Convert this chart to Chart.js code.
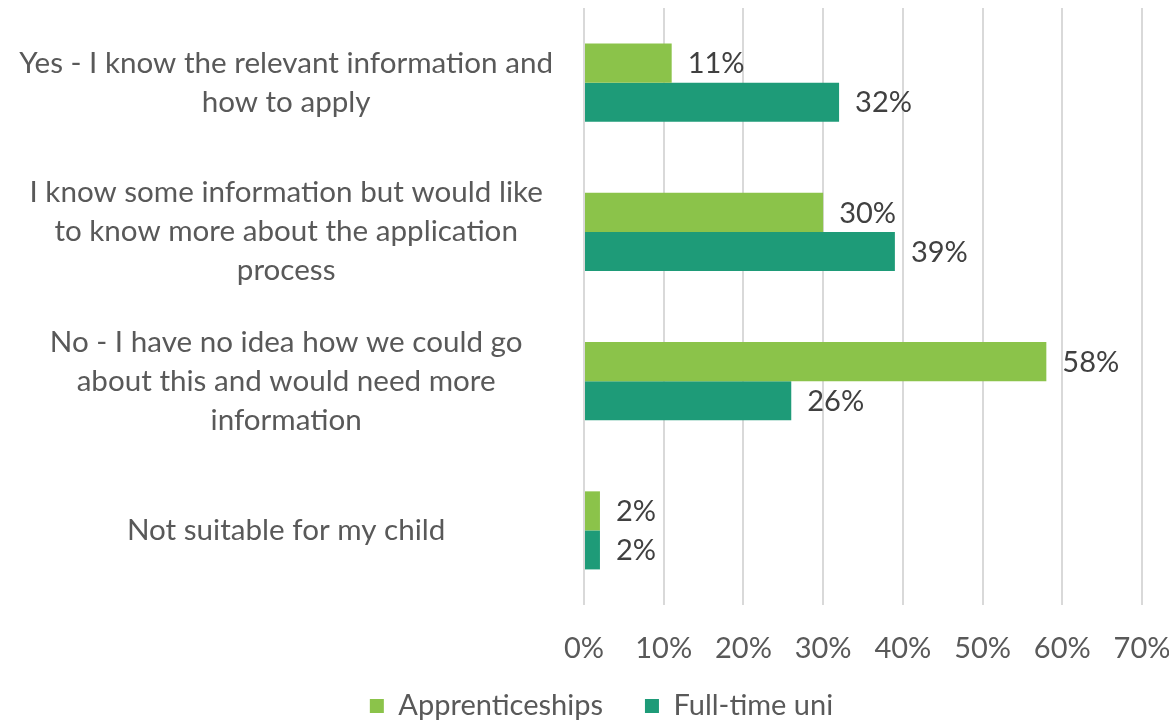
<!DOCTYPE html>
<html><head><meta charset="utf-8">
<script src="https://cdn.jsdelivr.net/npm/chart.js@4/dist/chart.umd.min.js"></script>
<style>html,body{margin:0;padding:0;background:#fff}#wrap{width:1169px;height:723px}</style>
</head><body><div id="wrap"><canvas id="c" width="1169" height="723"></canvas></div>
<script>
const categories = [
  ["Yes - I know the relevant information and", "how to apply"],
  ["I know some information but would like", "to know more about the application", "process"],
  ["No - I have no idea how we could go", "about this and would need more", "information"],
  ["Not suitable for my child"]
];
const apprenticeships = [11, 30, 58, 2];
const fullTimeUni = [32, 39, 26, 2];
const xTicks = [0, 10, 20, 30, 40, 50, 60, 70];

const FONT = "Lato, 'Open Sans', sans-serif";
const FS = 29;
const LEG_PAD = 42;
const labelPlugin = {
  id: 'vals',
  afterDatasetsDraw(chart) {
    const ctx = chart.ctx;
    ctx.save();
    ctx.font = FS + "px " + FONT;
    ctx.fillStyle = '#404040';
    ctx.textAlign = 'left';
    ctx.textBaseline = 'middle';
    chart.data.datasets.forEach((ds, i) => {
      chart.getDatasetMeta(i).data.forEach((bar, j) => {
        ctx.fillText(ds.data[j] + '%', bar.x + 16, bar.y + 1);
      });
    });
    ctx.restore();
  }
};
const legendShift = {
  id: 'legendShift',
  afterLayout(chart) {
    const l = chart.legend;
    const itemH = l.height - LEG_PAD - 10;
    const center = l.top + LEG_PAD + itemH / 2;
    const dy = 706 - center;
    l.top += dy; l.bottom += dy;
    l.left += 18; l.right += 18;
  }
};

new Chart(document.getElementById('c'), {
  type: 'bar',
  data: {
    labels: categories,
    datasets: [
      { label: 'Apprenticeships', data: apprenticeships, backgroundColor: '#8bc34a', categoryPercentage: 0.523, barPercentage: 1 },
      { label: 'Full-time uni', data: fullTimeUni, backgroundColor: '#1e9b78', categoryPercentage: 0.523, barPercentage: 1 }
    ]
  },
  options: {
    indexAxis: 'y',
    responsive: false,
    animation: false,
    layout: { padding: { left: 0, right: 2, top: 8, bottom: -25 } },
    scales: {
      x: {
        min: 0, max: 70,
        afterBuildTicks(axis) { axis.ticks = xTicks.map(v => ({ value: v })); },
        afterFit(scale) { scale.height = 62; scale.paddingRight = 27; },
        ticks: { callback: v => v + '%', color: '#595959', font: { size: FS, family: FONT }, padding: 26 },
        grid: { color: '#d9d9d9', lineWidth: 2, drawTicks: false },
        border: { display: false }
      },
      y: {
        afterFit(scale) { scale.paddingTop = 0; scale.paddingBottom = 0; scale.width = 584; },
        ticks: { color: '#595959', font: { size: 29.6, family: FONT, lineHeight: 1.32 }, padding: 31, crossAlign: 'center' },
        grid: { display: false, drawTicks: false },
        border: { display: false }
      }
    },
    plugins: {
      legend: {
        position: 'bottom',
        labels: { color: '#595959', font: { size: FS, family: FONT }, boxWidth: 14, boxHeight: 14, padding: LEG_PAD }
      },
      tooltip: { enabled: false }
    }
  },
  plugins: [labelPlugin, legendShift]
});
</script></body></html>
